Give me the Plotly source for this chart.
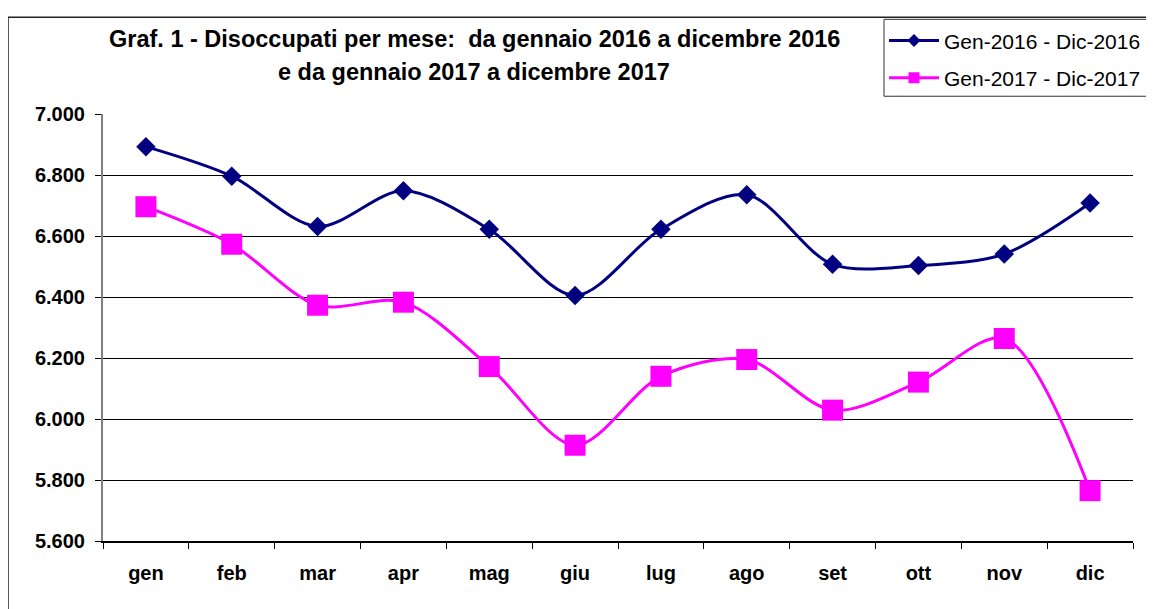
import plotly.graph_objects as go

mesi = ["gen", "feb", "mar", "apr", "mag", "giu", "lug", "ago", "set", "ott", "nov", "dic"]
serie_2016 = [6893, 6796, 6631, 6748, 6622, 6405, 6622, 6735, 6507, 6503, 6541, 6708]
serie_2017 = [6696, 6573, 6373, 6383, 6172, 5914, 6140, 6195, 6029, 6121, 6264, 5765]
nome_2016 = "Gen-2016 - Dic-2016"
nome_2017 = "Gen-2017 - Dic-2017"
y_ticks = [5600, 5800, 6000, 6200, 6400, 6600, 6800, 7000]
y_labels = ["5.600", "5.800", "6.000", "6.200", "6.400", "6.600", "6.800", "7.000"]
titolo_1 = "Graf. 1 - Disoccupati per mese:  da gennaio 2016 a dicembre 2016"
titolo_2 = "e da gennaio 2017 a dicembre 2017"

NAVY = "#000080"
MAGENTA = "#FF00FF"
FONT = "Arial, Liberation Sans, sans-serif"

# page has an 8px body margin: figure origin sits at page (8, 8)
OFF = 8
W, H = 1154, 609
PL, PR, PT, PB = 103, 1133, 108, 541   # plot area in page pixels
ML, MT = PL - OFF, PT - OFF
MR, MB = W - (PR - OFF), H - (PB - OFF)
PW, PH = PR - PL, PB - PT


def px_x(x):
    return (x - PL) / PW


def px_y(y):
    return 1 + (PT - y) / PH


fig = go.Figure()

fig.add_trace(go.Scatter(
    x=mesi, y=serie_2016, mode="lines+markers", showlegend=False,
    line=dict(color=NAVY, width=3, shape="spline", smoothing=0.9),
    marker=dict(symbol="diamond", size=15, color=NAVY),
))
fig.add_trace(go.Scatter(
    x=mesi, y=serie_2017, mode="lines+markers", showlegend=False,
    line=dict(color=MAGENTA, width=3, shape="spline", smoothing=0.9),
    marker=dict(symbol="square", size=21, color=MAGENTA),
))
# legend-only entries (smaller symbols, as in the original legend)
fig.add_trace(go.Scatter(
    x=[None], y=[None], mode="lines+markers", name=nome_2016, legendgroup="a",
    line=dict(color=NAVY, width=3), marker=dict(symbol="diamond", size=10, color=NAVY),
))
fig.add_trace(go.Scatter(
    x=[None], y=[None], mode="lines+markers", name=nome_2017, legendgroup="b",
    line=dict(color=MAGENTA, width=3), marker=dict(symbol="square", size=11, color=MAGENTA),
))

fig.update_layout(
    width=W, height=H,
    margin=dict(l=ML, r=MR, t=MT, b=MB, pad=0),
    paper_bgcolor="white", plot_bgcolor="white",
    font=dict(family=FONT, color="black"),
    showlegend=True,
    legend=dict(
        x=px_x(884), y=px_y(13), xanchor="left", yanchor="top",
        font=dict(family=FONT, size=21, color="black"),
        bgcolor="rgba(0,0,0,0)", borderwidth=0,
        itemwidth=50, tracegroupgap=7, traceorder="grouped",
    ),
    xaxis=dict(
        type="category", range=[-0.5, 11.5],
        showgrid=False, showline=True, linecolor="black", linewidth=1.5,
        ticks="outside", ticklen=6, tickcolor="black", tickwidth=1,
        tickson="boundaries",
        tickfont=dict(family=FONT, size=20, color="black", weight="bold"),
        ticklabelstandoff=13,
        fixedrange=True,
    ),
    yaxis=dict(
        range=[5600, 7000],
        tickvals=y_ticks, ticktext=y_labels,
        showgrid=True, gridcolor="black", gridwidth=1,
        showline=True, linecolor="#808080", linewidth=2,
        ticks="outside", ticklen=6, tickcolor="black", tickwidth=1,
        tickfont=dict(family=FONT, size=20, color="black", weight="bold"),
        ticklabelstandoff=6,
        zeroline=False, fixedrange=True,
    ),
    annotations=[
        dict(text="<b>" + titolo_1 + "</b>", xref="paper", yref="paper",
             x=px_x(474), y=px_y(32), xanchor="center", yanchor="middle",
             showarrow=False, font=dict(family=FONT, size=23.5, color="black")),
        dict(text="<b>" + titolo_2 + "</b>", xref="paper", yref="paper",
             x=px_x(474), y=px_y(65), xanchor="center", yanchor="middle",
             showarrow=False, font=dict(family=FONT, size=23.5, color="black")),
    ],
    shapes=[
        # outer chart frame
        dict(type="rect", xref="paper", yref="paper",
             x0=px_x(8), x1=px_x(1175), y0=px_y(10), y1=px_y(640),
             line=dict(color="#222222", width=1.5), layer="below"),
        # legend box
        dict(type="rect", xref="paper", yref="paper",
             x0=px_x(884), x1=px_x(1175), y0=px_y(12), y1=px_y(90),
             line=dict(color="#333333", width=1), layer="below"),
    ],
)

fig.write_html("out.html")
